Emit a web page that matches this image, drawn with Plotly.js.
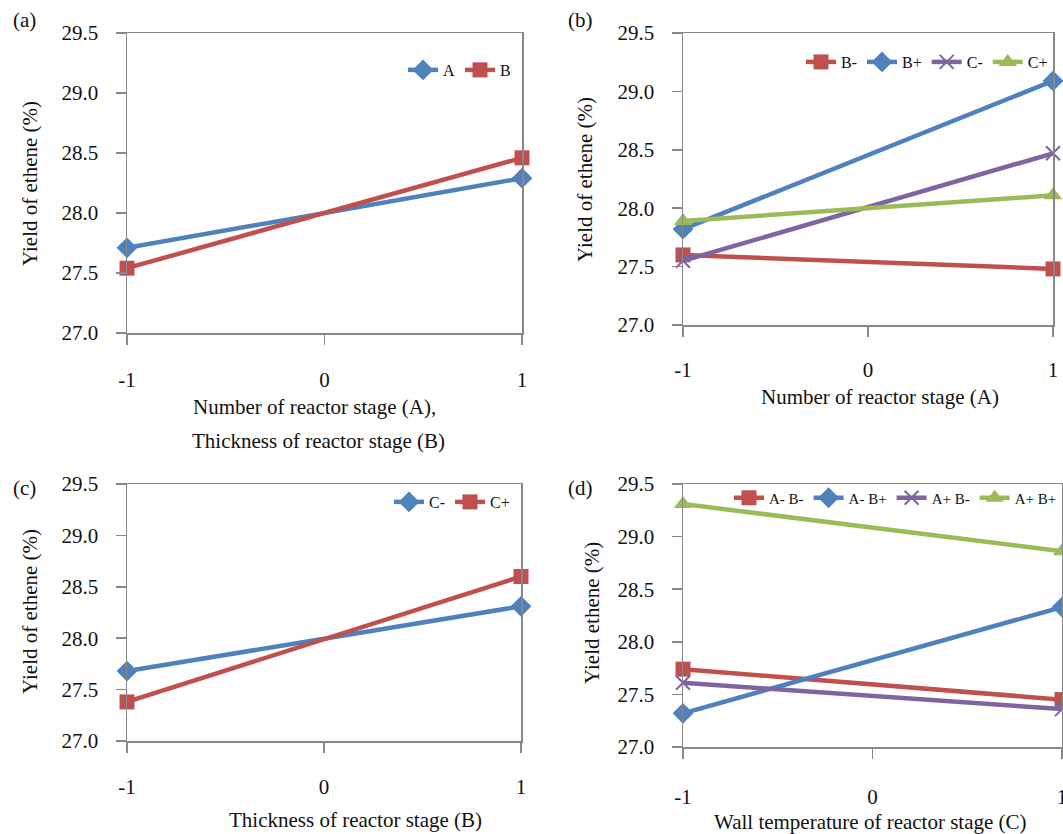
<!DOCTYPE html>
<html>
<head>
<meta charset="utf-8">
<script src="https://cdn.plot.ly/plotly-3.0.1.min.js"></script>
<style>html,body{margin:0;padding:0;background:#fff;}#chart{width:1063px;height:834px;}</style>
</head>
<body>
<div id="chart"></div>
<script>
// ---- data ----
const levels = [-1, 1];
const tickVals = [-1, 0, 1];
const tickText = ["-1", "0", "1"];
const yTicks = [27.0, 27.5, 28.0, 28.5, 29.0, 29.5];

// (a) main effects
const aNames = ["A", "B"];
const aA = [27.71, 28.29];
const aB = [27.54, 28.46];

// (b) interactions vs A
const bNames = ["B-", "B+", "C-", "C+"];
const bBm = [27.60, 27.48];
const bBp = [27.82, 29.09];
const bCm = [27.55, 28.47];
const bCp = [27.89, 28.11];

// (c) interaction vs B
const cNames = ["C-", "C+"];
const cCm = [27.68, 28.31];
const cCp = [27.38, 28.60];

// (d) interactions vs C
const dNames = ["A- B-", "A- B+", "A+ B-", "A+ B+"];
const dAmBm = [27.74, 27.45];
const dAmBp = [27.32, 28.33];
const dApBm = [27.61, 27.36];
const dApBp = [29.31, 28.86];

// ---- styling ----
const BLUE = "#4F81BD", RED = "#C0504D", PURPLE = "#8064A2", GREEN = "#9BBB59";
const FONT = "Liberation Serif";
const W = 1063, H = 834;
const px = v => v / W;
const py = v => 1 - v / H;

const mk = {
  diamond: c => ({symbol: "diamond", size: 16, color: c}),
  square: c => ({symbol: "square", size: 15, color: c}),
  x: c => ({symbol: "x-thin", size: 14, color: c, line: {color: c, width: 2}}),
  triangle: c => ({symbol: "triangle-up", size: 16, color: c})
};

function tr(name, y, color, marker, ax, leg) {
  return {
    type: "scatter", mode: "lines+markers", name: name,
    x: levels, y: y,
    line: {color: color, width: 4.5},
    marker: marker,
    xaxis: "x" + ax, yaxis: "y" + ax,
    legend: leg, cliponaxis: false
  };
}

const data = [
  tr(aNames[0], aA, BLUE, mk.diamond(BLUE), "", "legend"),
  tr(aNames[1], aB, RED, mk.square(RED), "", "legend"),
  tr(bNames[0], bBm, RED, mk.square(RED), "2", "legend2"),
  tr(bNames[1], bBp, BLUE, mk.diamond(BLUE), "2", "legend2"),
  tr(bNames[2], bCm, PURPLE, mk.x(PURPLE), "2", "legend2"),
  tr(bNames[3], bCp, GREEN, mk.triangle(GREEN), "2", "legend2"),
  tr(cNames[0], cCm, BLUE, mk.diamond(BLUE), "3", "legend3"),
  tr(cNames[1], cCp, RED, mk.square(RED), "3", "legend3"),
  tr(dNames[0], dAmBm, RED, mk.square(RED), "4", "legend4"),
  tr(dNames[1], dAmBp, BLUE, mk.diamond(BLUE), "4", "legend4"),
  tr(dNames[2], dApBm, PURPLE, mk.x(PURPLE), "4", "legend4"),
  tr(dNames[3], dApBp, GREEN, mk.triangle(GREEN), "4", "legend4")
];

const AXC = "#888888";
function xax(l, r, anchor, standoff) {
  return {
    domain: [px(l), px(r)], anchor: anchor, range: [-1, 1],
    tickvals: tickVals, ticktext: tickText, ticks: "outside", ticklen: 10,
    tickcolor: AXC, tickwidth: 1.5, showline: true, linecolor: AXC, linewidth: 1.5,
    mirror: true, showgrid: false, zeroline: false, ticklabelstandoff: standoff,
    ticklabeloverflow: "allow",
    tickfont: {family: FONT, size: 21, color: "#111"}, fixedrange: true
  };
}
function yax(t, b, anchor) {
  return {
    domain: [py(b), py(t)], anchor: anchor, range: [27, 29.5],
    tickvals: yTicks, tickformat: ".1f", ticks: "outside", ticklen: 10,
    tickcolor: AXC, tickwidth: 1.5, showline: true, linecolor: AXC, linewidth: 1.5,
    mirror: true, showgrid: false, zeroline: false, ticklabelstandoff: 13,
    tickfont: {family: FONT, size: 21, color: "#111"}, fixedrange: true
  };
}
function leg(xr, yc, size) {
  return {
    orientation: "h", x: px(xr), xanchor: "right", y: py(yc), yanchor: "middle",
    bgcolor: "rgba(0,0,0,0)", font: {family: FONT, size: size, color: "#111"},
    itemclick: false, itemdoubleclick: false, tracegroupgap: 0
  };
}
function ann(text, x, y, size, angle) {
  return {text: text, x: px(x), y: py(y), xref: "paper", yref: "paper",
    showarrow: false, xanchor: "center", yanchor: "middle", textangle: angle || 0,
    font: {family: FONT, size: size, color: "#111"}};
}

const layout = {
  width: W, height: H,
  margin: {l: 0, r: 0, t: 0, b: 0},
  font: {family: FONT, color: "#111"},
  paper_bgcolor: "#fff", plot_bgcolor: "#fff",
  showlegend: true,
  xaxis: xax(127, 522, "y", 17), yaxis: yax(33, 333, "x"),
  xaxis2: xax(683, 1053, "y2", 15), yaxis2: yax(33, 325, "x2"),
  xaxis3: xax(127, 521, "y3", 16), yaxis3: yax(484, 741, "x3"),
  xaxis4: xax(683, 1062, "y4", 20), yaxis4: yax(484, 747, "x4"),
  legend: leg(516, 70, 16),
  legend2: leg(1053, 62, 16),
  legend3: leg(515, 502, 16),
  legend4: leg(1062, 498, 15),
  annotations: [
    ann("(a)", 24, 20, 21), ann("(b)", 580, 20, 21),
    ann("(c)", 24, 488, 21), ann("(d)", 580, 488, 21),
    ann("Yield of ethene (%)", 30, 184, 21, -90),
    ann("Yield of ethene (%)", 585, 180, 21, -90),
    ann("Yield of ethene (%)", 30, 612, 21, -90),
    ann("Yield ethene (%)", 592, 613, 21, -90),
    ann("Number of reactor stage (A),", 314, 407, 21),
    ann("Thickness of reactor stage (B)", 318, 441, 21),
    ann("Number of reactor stage (A)", 880, 397, 21),
    ann("Thickness of reactor stage (B)", 355, 820, 21),
    ann("Wall temperature of reactor stage (C)", 870, 822, 21)
  ]
};

Plotly.newPlot("chart", data, layout, {staticPlot: true, displayModeBar: false});
</script>
</body>
</html>
